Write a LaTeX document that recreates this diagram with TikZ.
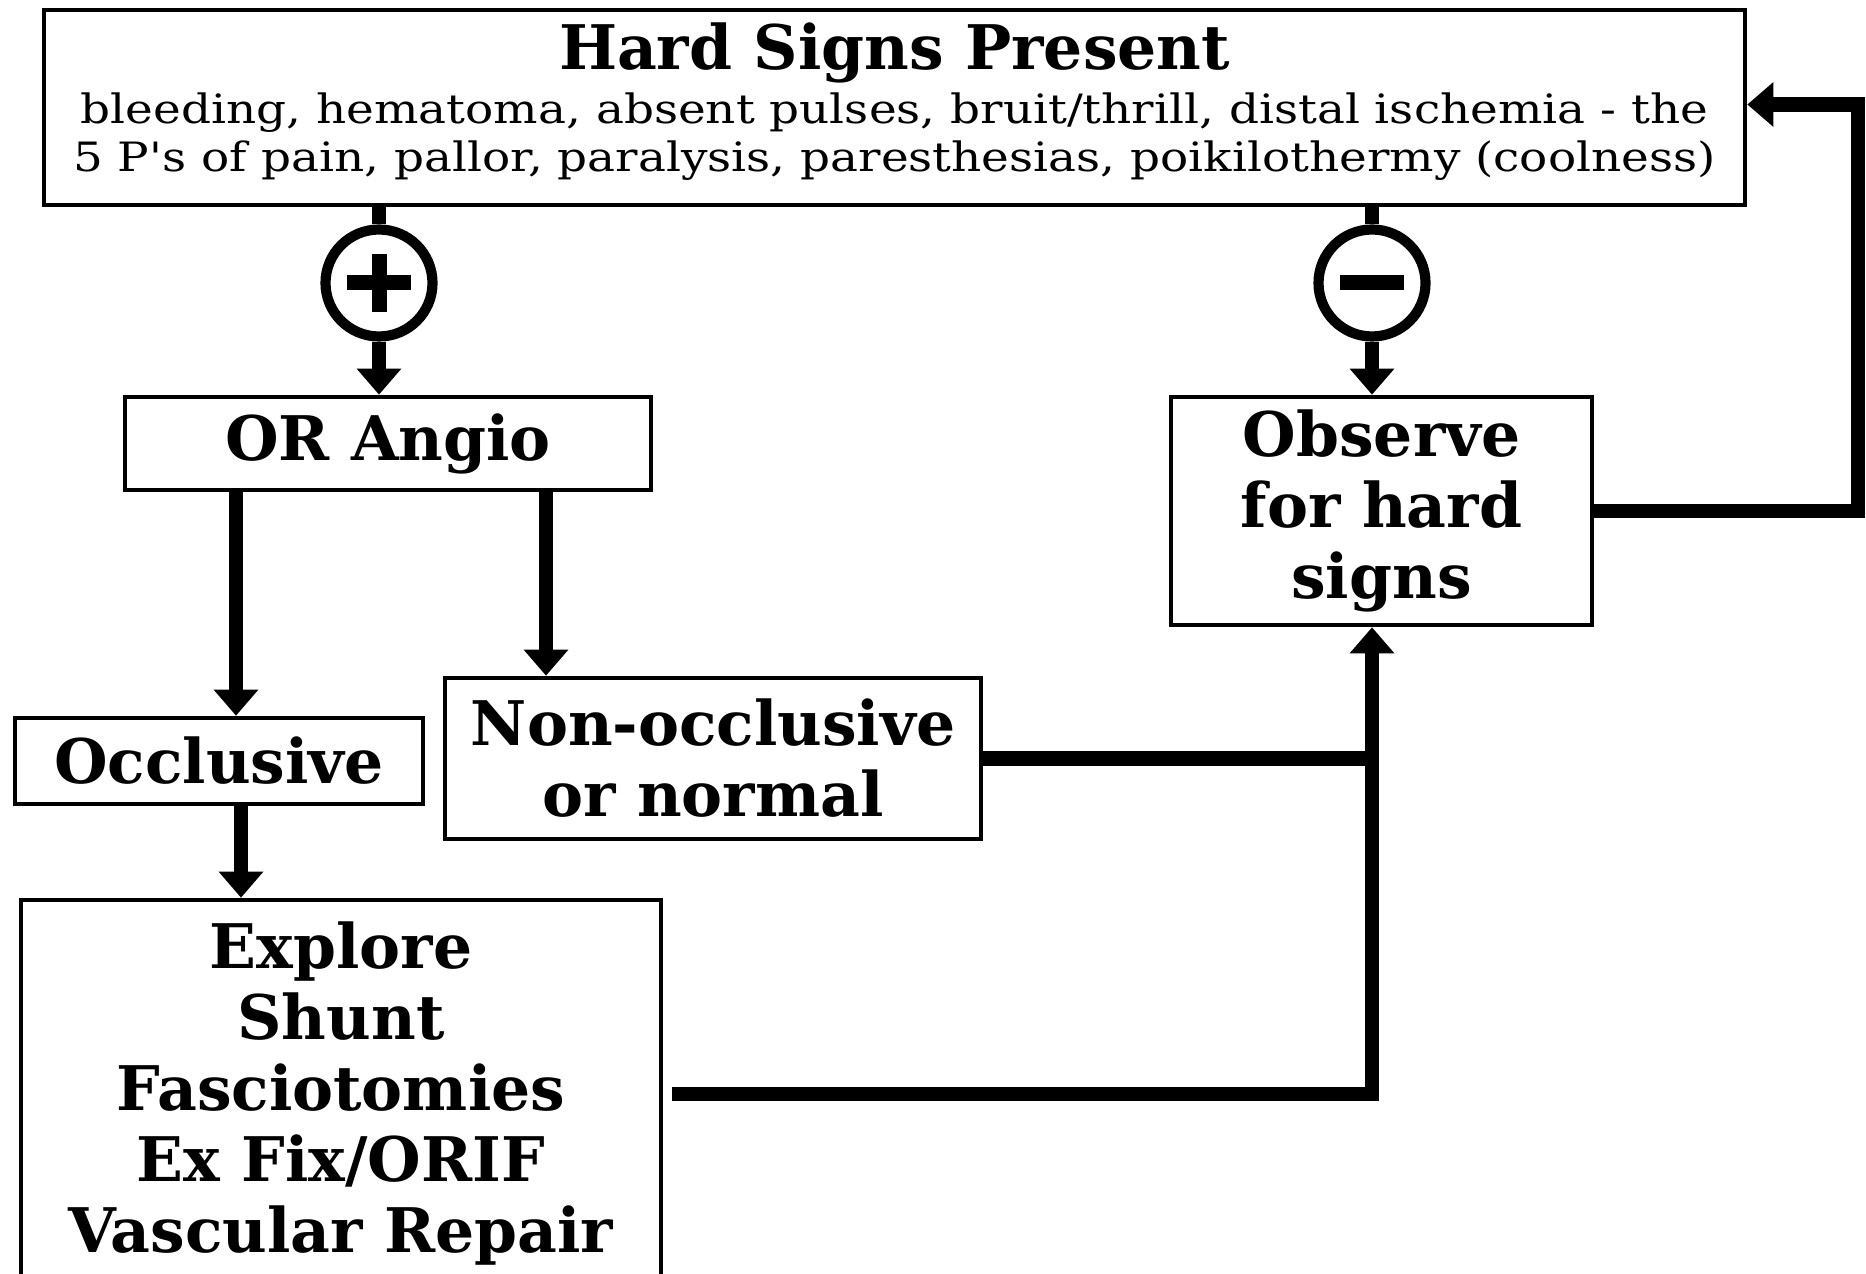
\documentclass[tikz,border=0pt]{standalone}
\usepackage{fontspec}
\setmainfont{DejaVu Serif}
\newfontfamily\widefont[FakeStretch=1.16]{DejaVu Serif}
\usetikzlibrary{arrows.meta,positioning,calc}
\newcommand{\bigfont}{\fontsize{17.5}{20.2}\selectfont\bfseries}
\newcommand{\smallfont}{\widefont\fontsize{11.5}{13.6}\selectfont}

\begin{document}
\begin{tikzpicture}[>={Triangle[width=4.3mm,length=2.6mm]},
  box/.style={draw, line width=1.3pt, inner sep=0pt, align=center, font=\bigfont},
  link/.style={line width=4pt},
  sign/.style={draw, circle, line width=2.9pt, minimum size=1.07cm, inner sep=0pt}]
  \useasboundingbox (0,0) rectangle (18.66,-12.74);
  % boxes
  \node[box, minimum width=17.01cm, minimum height=1.95cm] (hard) at (8.945,-1.075)
    {Hard Signs Present\\[-4.7pt]
     {\smallfont\mdseries bleeding, hematoma, absent pulses, bruit/thrill, distal ischemia - the}\\[-6.6pt]
     {\smallfont\mdseries 5 P\char39 s of pain, pallor, paralysis, paresthesias, poikilothermy (coolness)\rule[-6pt]{0pt}{1pt}}};
  \node[sign] (plus) at (3.79,-2.83) {};
  \node[sign] (minus) at (13.72,-2.83) {};
  \node[box, minimum width=5.26cm, minimum height=0.93cm] (angio) at (3.88,-4.435) {OR Angio};
  \node[box, minimum width=4.21cm, minimum height=2.28cm] (observe) at (13.815,-5.11) {Observe\\for hard\\signs};
  \node[box, minimum width=4.08cm, minimum height=0.86cm] (occl) at (2.19,-7.61) {Occlusive};
  \node[box, minimum width=5.36cm, minimum height=1.61cm] (nonoccl) at (7.13,-7.585) {Non-occlusive\\or normal};
  \node[box, minimum width=6.40cm, minimum height=3.88cm] (explore) at (3.41,-10.94)
    {Explore\\Shunt\\Fasciotomies\\Ex Fix/ORIF\\Vascular Repair};
  \coordinate (back) at (18.58,-5.08);
  % signs
  \draw[line width=0.15cm] ([xshift=-0.32cm]plus.center) -- ([xshift=0.32cm]plus.center);
  \draw[line width=0.15cm] ([yshift=-0.29cm]plus.center) -- ([yshift=0.29cm]plus.center);
  \draw[line width=0.15cm] ([xshift=-0.32cm]minus.center) -- ([xshift=0.32cm]minus.center);
  % connectors
  \draw[link] (hard.south -| plus) -- (plus);
  \draw[link,->] (plus) -- (plus |- angio.north);
  \draw[link] (hard.south -| minus) -- (minus);
  \draw[link,->] (minus) -- (minus |- observe.north);
  \draw[link,->] ([xshift=1.7mm]occl.north |- angio.south) -- ([xshift=1.7mm]occl.north);
  \draw[link,->] ([xshift=-16.7mm]nonoccl.north |- angio.south) -- ([xshift=-16.7mm]nonoccl.north);
  \draw[link,->] ([xshift=2.2mm]occl.south) -- ([xshift=2.2mm]occl.south |- explore.north);
  \draw[link] (nonoccl.east) -- (nonoccl.east -| minus);
  \draw[link,->] ([xshift=0.9mm]explore.east) -| (minus |- observe.south);
  \draw[link,->] (observe.east) -- (observe.east -| back) |- ([yshift=0.3mm]hard.east);
\end{tikzpicture}
\end{document}
